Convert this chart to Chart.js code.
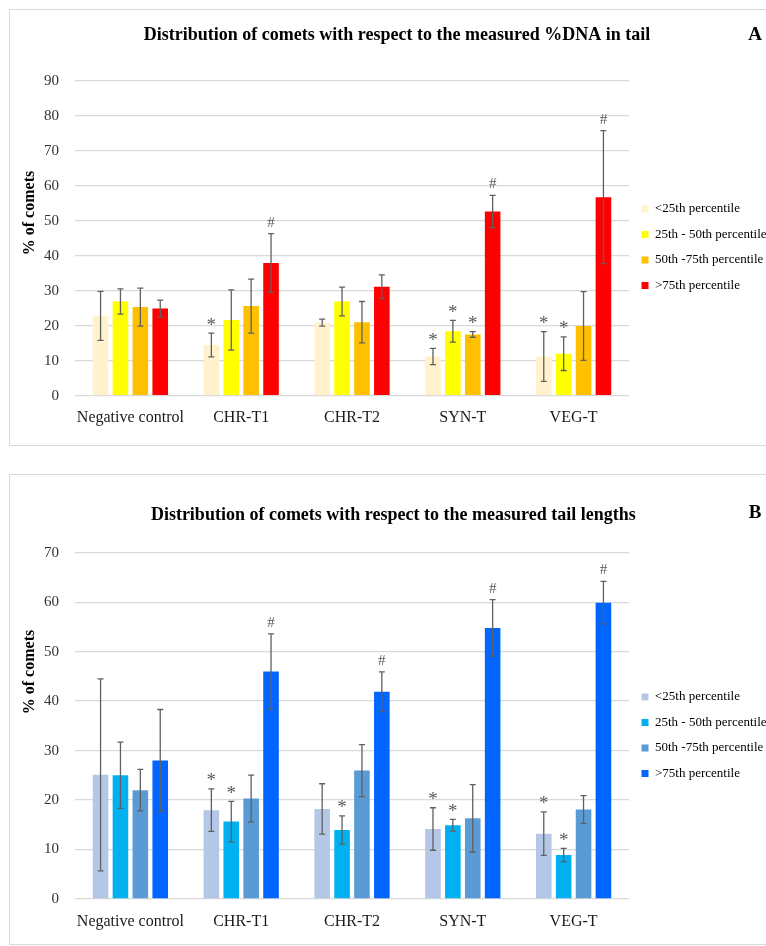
<!DOCTYPE html>
<html><head><meta charset="utf-8">
<script src="https://cdn.jsdelivr.net/npm/chart.js@4/dist/chart.umd.min.js"></script>
<style>
html,body{margin:0;padding:0;background:#fff;overflow:hidden;width:766px;height:946px;}
.panel{position:absolute;left:9px;border:1px solid #d9d9d9;background:#fff;overflow:hidden;}
#pA{top:9px;width:790px;height:435px;}
#pB{top:474px;width:790px;height:469px;}
.panel canvas{position:absolute;left:0;top:0;}
</style></head>
<body>
<div class="panel" id="pA"><canvas id="cA" width="776" height="435" style="width:776px;height:435px"></canvas></div>
<div class="panel" id="pB"><canvas id="cB" width="776" height="469" style="width:776px;height:469px"></canvas></div>
<script>
// ---------- data ----------
const categories = ['Negative control', 'CHR-T1', 'CHR-T2', 'SYN-T', 'VEG-T'];
const seriesNames = ['<25th percentile', '25th - 50th percentile', '50th -75th percentile', '>75th percentile'];
const titleA = 'Distribution of comets with respect to the measured %DNA in tail';
const titleB = 'Distribution of comets with respect to the measured tail lengths';
const yAxisTitle = '% of comets';
const yMaxA = 90;
const yMaxB = 70;
const yStep = 10;

// Panel A: %DNA in tail
const dnaP25    = [22.8, 14.5, 20.9, 11.2, 11.2];
const dnaP25_50 = [26.9, 21.6, 26.9, 18.4, 12.0];
const dnaP50_75 = [25.3, 25.6, 21.0, 17.5, 19.9];
const dnaP75    = [24.9, 37.9, 31.1, 52.6, 56.7];
const dnaErr25    = [7.0, 3.4, 1.0, 2.3, 7.1];
const dnaErr25_50 = [3.6, 8.6, 4.1, 3.1, 4.8];
const dnaErr50_75 = [5.4, 7.7, 5.9, 0.8, 9.8];
const dnaErr75    = [2.4, 8.4, 3.4, 4.6, 19.0];
const dnaMark25    = ['', '*', '', '*', '*'];
const dnaMark25_50 = ['', '', '', '*', '*'];
const dnaMark50_75 = ['', '', '', '*', ''];
const dnaMark75    = ['', '#', '', '#', '#'];

// Panel B: tail lengths
const lenP25    = [25.1, 17.95, 18.2, 14.15, 13.2];
const lenP25_50 = [25.0, 15.65, 13.95, 14.9, 8.9];
const lenP50_75 = [22.0, 20.3, 25.95, 16.3, 18.1];
const lenP75    = [28.0, 46.0, 41.9, 54.8, 59.9];
const lenErr25    = [19.4, 4.3, 5.1, 4.3, 4.4];
const lenErr25_50 = [6.7, 4.1, 2.85, 1.2, 1.35];
const lenErr50_75 = [4.2, 4.75, 5.25, 6.8, 2.8];
const lenErr75    = [10.3, 7.6, 4.0, 5.7, 4.3];
const lenMark25    = ['', '*', '', '*', '*'];
const lenMark25_50 = ['', '*', '*', '*', '*'];
const lenMark50_75 = ['', '', '', '', ''];
const lenMark75    = ['', '#', '#', '#', '#'];

// ---------- styles ----------
const colorsA = ['#FFF2CC', '#FFFF00', '#FFC000', '#FF0000'];
const colorsB = ['#B4C7E7', '#00B0F0', '#5B9BD5', '#0066FF'];
const SERIF = '"Liberation Serif", "Times New Roman", serif';

const errorBarPlugin = {
  id: 'errorBars',
  afterDatasetsDraw(chart) {
    const ctx = chart.ctx, ys = chart.scales.y;
    chart.data.datasets.forEach((ds, i) => {
      const meta = chart.getDatasetMeta(i);
      meta.data.forEach((bar, j) => {
        const v = ds.data[j], e = ds.errors[j];
        const yt = ys.getPixelForValue(v + e), yb = ys.getPixelForValue(v - e);
        const x = bar.x;
        ctx.save();
        ctx.strokeStyle = '#606060';
        ctx.lineWidth = 1.3;
        ctx.beginPath();
        ctx.moveTo(x, yt); ctx.lineTo(x, yb);
        ctx.moveTo(x - 3, yt); ctx.lineTo(x + 3, yt);
        ctx.moveTo(x - 3, yb); ctx.lineTo(x + 3, yb);
        ctx.stroke();
        const m = ds.marks[j];
        if (m) {
          ctx.fillStyle = '#595959';
          ctx.textAlign = 'center';
          ctx.textBaseline = 'alphabetic';
          if (m === '*') {
            ctx.font = '19px ' + SERIF;
            ctx.fillText(m, x, yt - 2.5);
          } else {
            ctx.font = '15px ' + SERIF;
            ctx.fillText(m, x, yt - 7);
          }
        }
        ctx.restore();
      });
    });
  }
};

const extrasPlugin = {
  id: 'extras',
  afterDraw(chart, args, opts) {
    const ctx = chart.ctx;
    ctx.save();
    ctx.fillStyle = '#000';
    ctx.font = 'bold 16px ' + SERIF;
    ctx.textAlign = 'center';
    ctx.textBaseline = 'middle';
    ctx.translate(opts.yTitleX, opts.yTitleY);
    ctx.rotate(-Math.PI / 2);
    ctx.fillText(opts.yTitle, 0, 0);
    ctx.restore();
    ctx.save();
    ctx.fillStyle = '#000';
    ctx.font = 'bold 19px ' + SERIF;
    ctx.textAlign = 'center';
    ctx.textBaseline = 'middle';
    ctx.fillText(opts.letter, opts.letterX, opts.letterY);
    ctx.restore();
  }
};

function makeDatasets(vals, errs, marks, colors) {
  return vals.map((v, i) => ({
    label: seriesNames[i],
    data: v,
    errors: errs[i],
    marks: marks[i],
    backgroundColor: colors[i],
    borderWidth: 0
  }));
}

function build(id, datasets, yMax, o) {
  const state = { yW: 56 };
  const cfg = {
    type: 'bar',
    data: { labels: categories, datasets },
    options: {
      responsive: false, animation: false, devicePixelRatio: 1,
      layout: { padding: { left: 0, right: 0, top: 0, bottom: 0 } },
      datasets: { bar: { categoryPercentage: 0.718, barPercentage: 0.784 } },
      scales: {
        x: {
          grid: { display: false, drawTicks: false },
          border: { display: false },
          ticks: { color: '#1a1a1a', font: { family: SERIF, size: 16 }, padding: o.xPad, maxRotation: 0, minRotation: 0, autoSkip: false },
          afterFit(s) { s.height = o.xH; }
        },
        y: {
          min: 0, max: yMax,
          ticks: { stepSize: yStep, color: '#333', font: { family: SERIF, size: 15 }, padding: 16 },
          grid: { color: '#d9d9d9', lineWidth: 1.3, drawTicks: false },
          border: { display: false },
          afterFit(s) { s.width = state.yW; }
        }
      },
      plugins: {
        title: { display: true, text: o.title, color: '#000', font: { family: SERIF, size: 18, weight: 'bold', lineHeight: 1.2 }, padding: { top: o.tTop, bottom: o.tBottom } },
        legend: {
          position: 'right', fullSize: false, align: 'center',
          title: { display: true, text: '', padding: { top: o.legShift, bottom: 0 }, font: { size: 1, lineHeight: 1 } },
          labels: { boxWidth: 7, boxHeight: 7, padding: 12.5, color: '#000', font: { family: SERIF, size: 13 } }
        },
        tooltip: { enabled: false },
        extras: { yTitle: yAxisTitle, yTitleX: o.yTitleX, yTitleY: o.yTitleY, letter: o.letter, letterX: 745, letterY: o.letterY }
      }
    },
    plugins: [errorBarPlugin, extrasPlugin]
  };
  const chart = new Chart(document.getElementById(id), cfg);
  const W = 776, targetLeft = 65, targetRight = 619;
  const Lw = chart.legend.width;
  let L = 2 * o.titleCenter - targetRight - Lw;
  if (L < 0) L = 0;
  if (L > 40) L = 40;
  const R = W - targetRight - Lw;
  chart.options.layout.padding = { left: L, right: R, top: 0, bottom: 0 };
  state.yW = targetLeft - L;
  chart.update('none');
  return chart;
}

build('cA', makeDatasets([dnaP25, dnaP25_50, dnaP50_75, dnaP75], [dnaErr25, dnaErr25_50, dnaErr50_75, dnaErr75], [dnaMark25, dnaMark25_50, dnaMark50_75, dnaMark75], colorsA), yMaxA,
  { title: titleA, tTop: 14.2, tBottom: 34.8, xH: 49.3, xPad: 12, legShift: 17.2, yTitleX: 20, yTitleY: 203, letter: 'A', letterY: 25, titleCenter: 387 });
build('cB', makeDatasets([lenP25, lenP25_50, lenP50_75, lenP75], [lenErr25, lenErr25_50, lenErr50_75, lenErr75], [lenMark25, lenMark25_50, lenMark50_75, lenMark75], colorsB), yMaxB,
  { title: titleB, tTop: 29.2, tBottom: 26.9, xH: 45, xPad: 13, legShift: 17.8, yTitleX: 20, yTitleY: 197, letter: 'B', letterY: 38, titleCenter: 382 });
</script>
</body></html>
